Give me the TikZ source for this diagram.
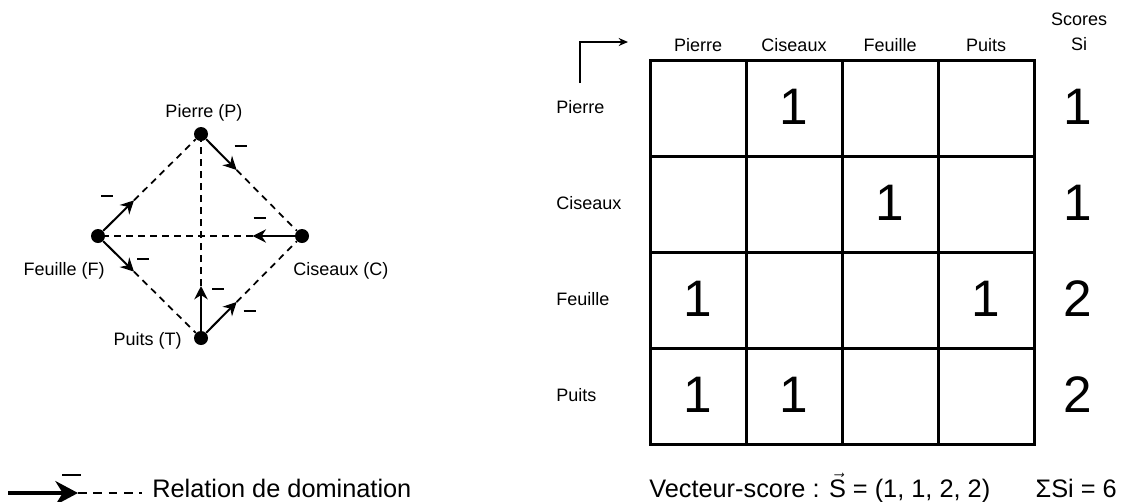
\documentclass[tikz,border=0pt]{standalone}
\usepackage{amsmath}
\usepackage{fontspec}
\setmainfont{Liberation Sans}
\usetikzlibrary{positioning,calc,arrows.meta}

\begin{document}
\begin{tikzpicture}[x=0.75pt, y=-0.75pt,
        player/.style={circle, fill=black, inner sep=0pt, minimum size=10.5pt},
        lbl/.style={font=\fontsize{13.5}{18.75}\selectfont, inner sep=0pt},
        digit/.style={font=\fontsize{38.5}{40}\selectfont, inner sep=0pt},
        caption/.style={font=\fontsize{19}{22}\selectfont, inner sep=0pt},
        beats/.style={line width=1.5pt, -{Stealth[length=10pt, width=10pt]}},
        weak/.style={line width=1.3pt, dash pattern=on 5pt off 4pt},
        minusbar/.style={line width=1.6pt},
        gridline/.style={line width=2.25pt, line cap=rect}
    ]
    \useasboundingbox (0,0) rectangle (1126,501);

    % Players
    \node[player] (P) at (201,134) {};
    \node[player] (F) at (98,236) {};
    \node[player] (C) at (302,236) {};
    \node[player] (T) at (201,338) {};
    \node[lbl, anchor=base] (labP) at (204,117) {Pierre (P)};
    \node[lbl, anchor=base east] (labF) at (105,275) {Feuille (F)};
    \node[lbl, anchor=base west] (labC) at (293,275) {Ciseaux (C)};
    \node[lbl, anchor=base east] (labT) at (182,345) {Puits (T)};

    % Dominations
    \coordinate (pc) at ($(P)!38pt!(C)$);
    \coordinate (fp) at ($(F)!38pt!(P)$);
    \coordinate (ft) at ($(F)!38pt!(T)$);
    \coordinate (cf) at ($(C)!37pt!(F)$);
    \coordinate (tp) at ($(T)!39pt!(P)$);
    \coordinate (tc) at ($(T)!38pt!(C)$);
    \draw[beats] (P) -- (pc);
    \draw[weak] (pc) -- (C);
    \draw[beats] (F) -- (fp);
    \draw[weak] (fp) -- (P);
    \draw[beats] (F) -- (ft);
    \draw[weak] (ft) -- (T);
    \draw[beats] (C) -- (cf);
    \draw[weak] (cf) -- (F);
    \draw[beats] (T) -- (tp);
    \draw[weak] (tp) -- (P);
    \draw[beats] (T) -- (tc);
    \draw[weak] (tc) -- (C);
    \draw[minusbar] ($(pc)+(-2,-24)$) -- ++(12,0);
    \draw[minusbar] ($(fp)+(-33,-4)$) -- ++(12,0);
    \draw[minusbar] ($(ft)+(3,-13)$) -- ++(12,0);
    \draw[minusbar] ($(cf)+(1,-18)$) -- ++(12,0);
    \draw[minusbar] ($(tp)+(11,3)$) -- ++(12,0);
    \draw[minusbar] ($(tc)+(7,9)$) -- ++(12,0);

    % Legend
    \coordinate (legA) at (8,493);
    \coordinate (legB) at (78,493);
    \coordinate (legC) at (142,493);
    \draw[line width=2.3pt, -{Stealth[length=17pt, width=18pt]}] (legA) -- (legB);
    \draw[weak, dash pattern=on 6.5pt off 5pt] (legB) -- (legC);
    \draw[minusbar] (62,475) -- (81,475);
    \node[caption, anchor=base west] (legend) at (152,497) {Relation de domination};

    % Table
    \foreach \i in {0,...,4} {
        \draw[gridline] (650+96*\i,60) -- (650+96*\i,444);
        \draw[gridline] (650,60+96*\i) -- (1034,60+96*\i);
    }
    \foreach \name [count=\i] in {Pierre,Ciseaux,Feuille,Puits} {
        \node[lbl] (col\i) at (602+96*\i,45) {\name};
        \node[lbl, anchor=west] (row\i) at (556,11+96*\i) {\name};
    }
    \node[lbl, align=center] (scores) at (1079,32) {Scores\\Si};
    \coordinate (axisA) at (580,83);
    \coordinate (axisB) at (628,42);
    \draw[line width=1.5pt, -{Stealth[length=7pt, width=6pt]}] (axisA) |- (axisB);

    % Scores
    \node[digit] (m12) at (794,107) {1};
    \node[digit] (m23) at (890,203) {1};
    \node[digit] (m31) at (698,299) {1};
    \node[digit] (m34) at (986,299) {1};
    \node[digit] (m41) at (698,395) {1};
    \node[digit] (m42) at (794,395) {1};
    \node[digit] (s1) at (1078,107) {1};
    \node[digit] (s2) at (1078,203) {1};
    \node[digit] (s3) at (1078,299) {2};
    \node[digit] (s4) at (1078,395) {2};

    % Totals
    \node[caption, anchor=base west] (vector) at (649,497) {Vecteur-score : $\vec{\text{S}}$ = (1, 1, 2, 2)};
    \node[caption, anchor=base east] (total) at (1117,497) {ΣSi = 6};

\end{tikzpicture}
\end{document}
